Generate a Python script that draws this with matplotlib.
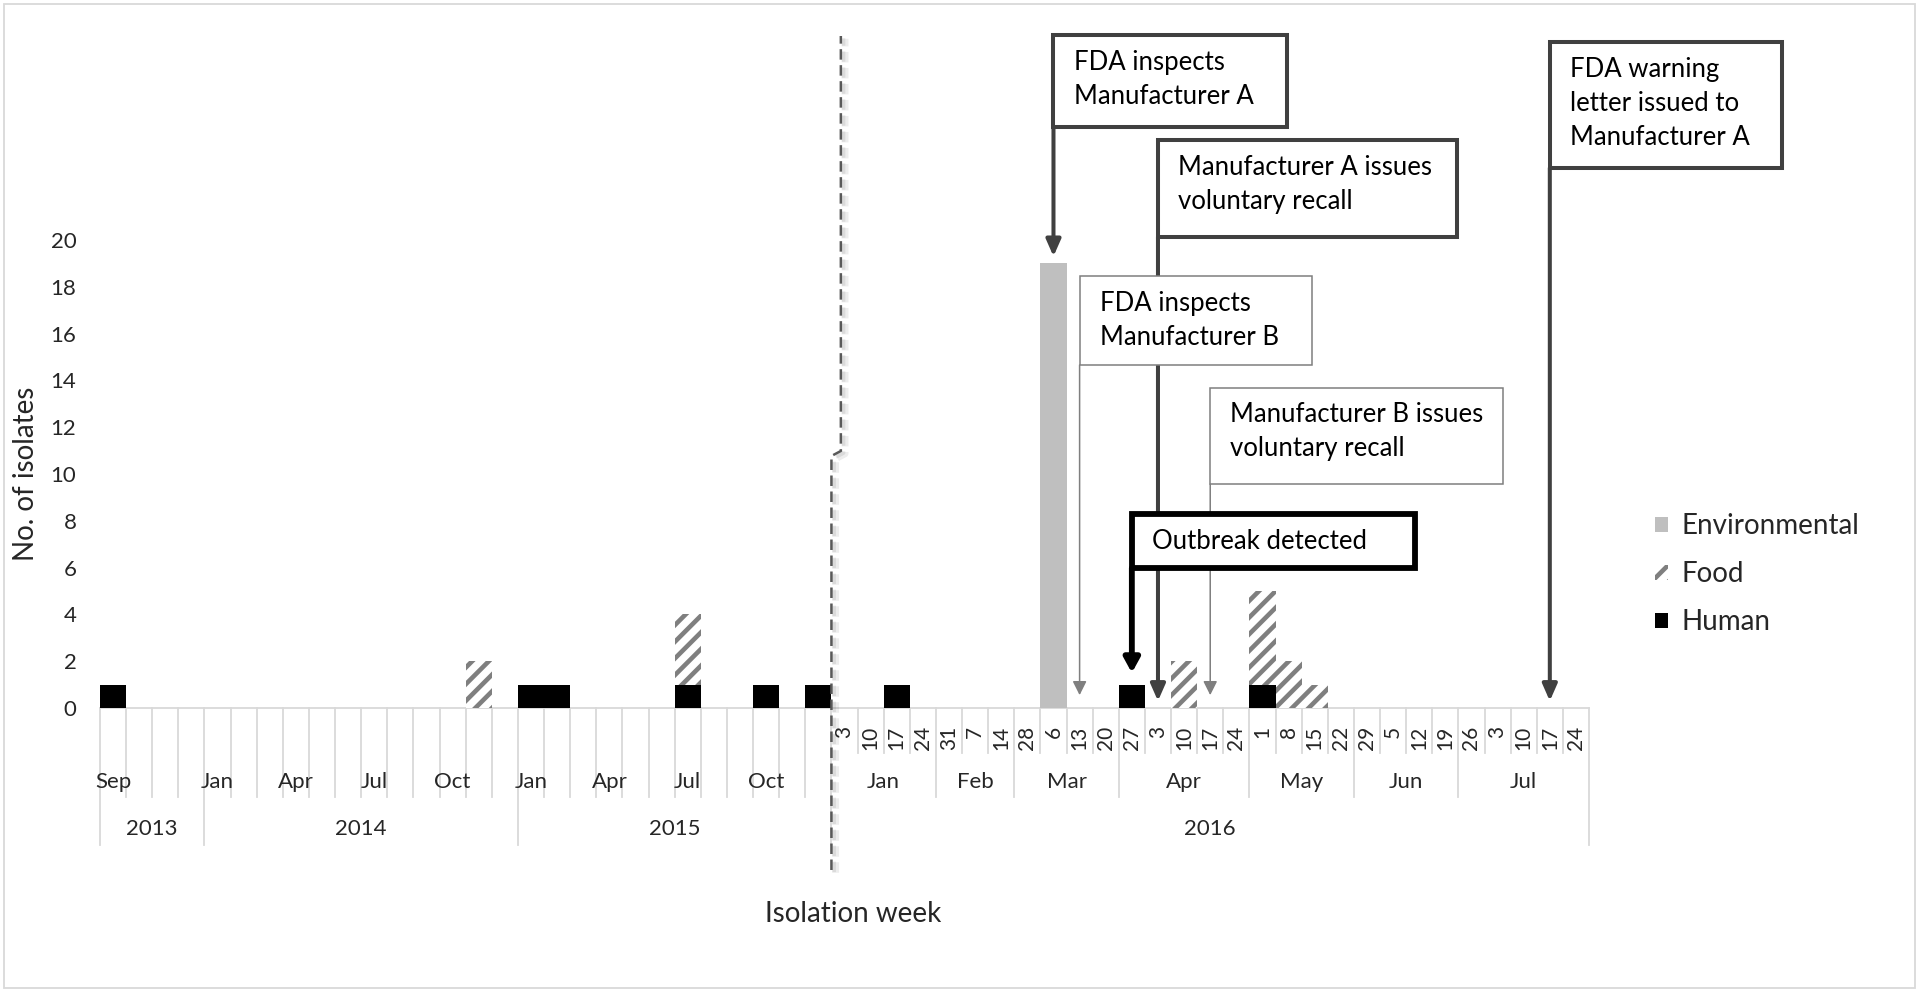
import matplotlib
matplotlib.use('Agg')
import matplotlib.pyplot as plt
import matplotlib.patheffects as pe
import matplotlib.transforms as mtransforms
from matplotlib.patches import Rectangle, Patch
import numpy as np

plt.rcParams['font.family'] = ['Lato', 'DejaVu Sans']
plt.rcParams['hatch.linewidth'] = 3.3

TXT = '#262626'
GRID = '#d9d9d9'

# Sep 2013 - Dec 2015 are monthly bins, 2016 is weekly bins
month_labels = ['Sep', '', '', '',
                'Jan', '', '', 'Apr', '', '', 'Jul', '', '', 'Oct', '', '',
                'Jan', '', '', 'Apr', '', '', 'Jul', '', '', 'Oct', '', '']
week_labels = ['3', '10', '17', '24', '31', '7', '14', '28', '6', '13', '20',
               '27', '3', '10', '17', '24', '1', '8', '15', '22', '29', '5',
               '12', '19', '26', '3', '10', '17', '24']
months_2016 = ['Jan', 'Feb', 'Mar', 'Apr', 'May', 'Jun', 'Jul']
weeks_per_month = [4, 3, 4, 5, 4, 4, 5]
years = ['2013', '2014', '2015', '2016']
bins_per_year = [4, 12, 12, 29]

human_monthly = [1, 0, 0, 0, 0, 0, 0, 0, 0, 0, 0, 0, 0, 0, 0, 0,
                 1, 1, 0, 0, 0, 0, 1, 0, 0, 1, 0, 1]
food_monthly = [0, 0, 0, 0, 0, 0, 0, 0, 0, 0, 0, 0, 0, 0, 2, 0,
                0, 0, 0, 0, 0, 0, 3, 0, 0, 0, 0, 0]
env_monthly = [0, 0, 0, 0, 0, 0, 0, 0, 0, 0, 0, 0, 0, 0, 0, 0,
               0, 0, 0, 0, 0, 0, 0, 0, 0, 0, 0, 0]
human_weekly = [0, 0, 1, 0, 0, 0, 0, 0, 0, 0, 0, 1, 0, 0, 0, 0, 1, 0, 0, 0,
                0, 0, 0, 0, 0, 0, 0, 0, 0]
food_weekly = [0, 0, 0, 0, 0, 0, 0, 0, 0, 0, 0, 0, 0, 2, 0, 0, 4, 2, 1, 0,
               0, 0, 0, 0, 0, 0, 0, 0, 0]
env_weekly = [0, 0, 0, 0, 0, 0, 0, 0, 19, 0, 0, 0, 0, 0, 0, 0, 0, 0, 0, 0,
              0, 0, 0, 0, 0, 0, 0, 0, 0]

# events: text, index into week_labels (2016)
event_text = ['FDA inspects\nManufacturer A',
              'Manufacturer A issues\nvoluntary recall',
              'FDA inspects\nManufacturer B',
              'Manufacturer B issues\nvoluntary recall',
              'Outbreak detected',
              'FDA warning\nletter issued to\nManufacturer A']
event_week = [8, 12, 9, 14, 11, 27]

# box layout (width in bins, bottom/top in y units) and style
box_w = [8.95, 11.45, 8.9, 11.2, 10.85, 8.9]
box_y = [(24.83, 28.76), (20.13, 24.27), (14.66, 18.46), (9.57, 13.68),
         (5.98, 8.29), (23.08, 28.46)]
box_style = ['thick', 'thick', 'thin', 'thin', 'bold', 'thick']
styles = {'thick': dict(color='#404040', lw=2.9, hw=0.22, hl=0.5, gap=0.3),
          'thin': dict(color='#7f7f7f', lw=1.1, hw=0.21, hl=0.42, gap=0.55),
          'bold': dict(color='#000000', lw=4.2, hw=0.23, hl=0.42, gap=0.5)}

n_month = len(month_labels)
human = np.array(human_monthly + human_weekly)
food = np.array(food_monthly + food_weekly)
env = np.array(env_monthly + env_weekly)
n = len(human)
x = np.arange(n)

W, H = 1920, 993
fig = plt.figure(figsize=(W / 100, H / 100), dpi=100)
ax = fig.add_axes([100 / W, 1 - 708 / H, 1489 / W, 702 / H])
ax.set_xlim(-0.5, n - 0.5)
ax.set_ylim(0, 30)

m = human > 0
ax.bar(x[m], human[m], width=1, color='black', linewidth=0, zorder=2)
m = food > 0
ax.bar(x[m], food[m], width=1, bottom=human[m], facecolor='white', edgecolor='#7f7f7f',
       hatch='//', linewidth=0, zorder=2)
m = env > 0
ax.bar(x[m], env[m], width=1, bottom=(human + food)[m], color='#bfbfbf', linewidth=0, zorder=2)

for s in ax.spines.values():
    s.set_visible(False)
ax.set_yticks(range(0, 21, 2))
ax.tick_params(axis='y', length=0, pad=17, labelsize=16, labelcolor=TXT)
ax.tick_params(axis='x', bottom=False, labelbottom=False)
ax.plot([-0.5, n - 0.5], [0, 0], color=GRID, lw=1.3, zorder=1.5, clip_on=False)

# multi-level category axis
trans = mtransforms.blended_transform_factory(ax.transData, fig.transFigure)


def fy(py):
    return 1 - py / H


year_bounds = list(np.cumsum([0] + bins_per_year))
month_bounds = list(n_month + np.cumsum([0] + weeks_per_month))
for b in range(n + 1):
    if b in year_bounds:
        bot = 845
    elif b <= n_month or b in month_bounds:
        bot = 797
    else:
        bot = 753
    ax.plot([b - 0.5, b - 0.5], [fy(708), fy(bot)], transform=trans,
            color=GRID, lw=1.3, clip_on=False, zorder=1)

for i, lab in enumerate(month_labels):
    if lab:
        ax.text(i, fy(782), lab, transform=trans, ha='center', va='center',
                fontsize=16, color=TXT)
for j, lab in enumerate(week_labels):
    ax.text(n_month + j, fy(726), lab, transform=trans, ha='center', va='top',
            rotation=90, fontsize=15, color=TXT)
for k, lab in enumerate(months_2016):
    c = (month_bounds[k] + month_bounds[k + 1]) / 2 - 0.5
    ax.text(c, fy(782), lab, transform=trans, ha='center', va='center',
            fontsize=16, color=TXT)
for k, lab in enumerate(years):
    c = (year_bounds[k] + year_bounds[k + 1]) / 2 - 0.5
    ax.text(c, fy(829), lab, transform=trans, ha='center', va='center',
            fontsize=16, color=TXT)

# dashed break line between monthly and weekly bins
xb = n_month - 0.5
ax.plot([xb, xb, xb + 0.36, xb + 0.36], [fy(870), fy(456), fy(451), fy(36)],
        transform=trans, color='#595959', lw=1.8, dashes=(4.2, 2.2),
        clip_on=False, zorder=3,
        path_effects=[pe.SimpleLineShadow(offset=(3, -2), shadow_color='k', alpha=0.07, linewidth=5),
                      pe.SimpleLineShadow(offset=(2, -1.5), shadow_color='k', alpha=0.08, linewidth=2.5),
                      pe.Normal()])

# event boxes and arrows
for txt, wk, w, (y0, y1), st in zip(event_text, event_week, box_w, box_y, box_style):
    s = styles[st]
    xc = n_month + wk
    tip = human[xc] + food[xc] + env[xc] + s['gap']
    ax.annotate('', xy=(xc, tip), xytext=(xc, y0), zorder=3,
                arrowprops=dict(arrowstyle='-|>,head_length=%g,head_width=%g' % (s['hl'], s['hw']),
                                color=s['color'], lw=s['lw'], shrinkA=0, shrinkB=0,
                                mutation_scale=20))
    ax.add_patch(Rectangle((xc, y0), w, y1 - y0, facecolor='white',
                           edgecolor=s['color'], lw=s['lw'], zorder=4, clip_on=False))
    ax.text(xc + 0.77, y1 - 0.62, txt, ha='left', va='top', fontsize=18.5,
            color='black', linespacing=1.45, zorder=5)

handles = [Patch(facecolor='#bfbfbf', linewidth=0, label='Environmental'),
           Patch(facecolor='white', edgecolor='#7f7f7f', hatch='//', linewidth=0, label='Food'),
           Patch(facecolor='black', linewidth=0, label='Human')]
fig.legend(handles=handles, loc='upper left', bbox_to_anchor=(1655 / W, fy(513)),
           frameon=False, fontsize=20, handlelength=0.45, handleheight=0.45,
           handletextpad=0.5, labelspacing=0.8, borderpad=0, borderaxespad=0,
           labelcolor=TXT)

fig.text(26 / W, fy(474), 'No. of isolates', rotation=90, ha='center', va='center',
         fontsize=20, color=TXT)
fig.text(853 / W, fy(914), 'Isolation week', ha='center', va='center',
         fontsize=20, color=TXT)

fig.patches.append(Rectangle((4 / W, fy(988)), 1911 / W, 984 / H, transform=fig.transFigure,
                             fill=False, edgecolor=GRID, lw=1.3))

fig.savefig('out.png', dpi=100)
